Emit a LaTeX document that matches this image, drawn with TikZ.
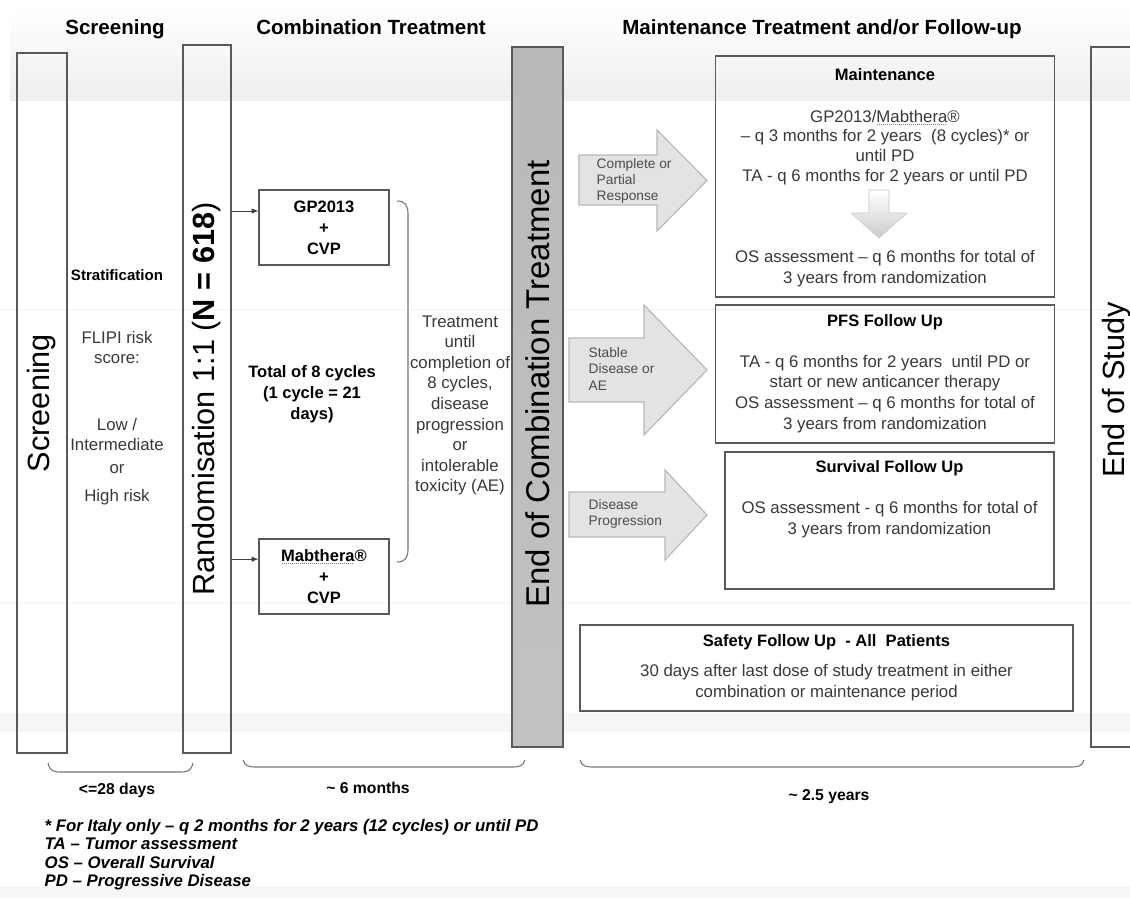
\documentclass[tikz,border=0pt]{standalone}
\usepackage{fontspec}
\setmainfont{Liberation Sans}
\usetikzlibrary{arrows.meta}

% dotted spell-check underline
\newcommand{\dotul}[1]{\setbox0\hbox{#1}\leavevmode\rlap{\copy0}%
  \raisebox{-1.9pt}{\hbox to \wd0{\color{gray}\leaders\hbox to 1.5pt{\hss\rule{0.6pt}{0.6pt}\hss}\hfill}}}

\begin{document}
\begin{tikzpicture}[
  x=0.75pt, y=-0.75pt,
  thinbox/.style={draw=black!65, line width=0.9pt, inner sep=0pt},
  tallbox/.style={thinbox, rotate=90, minimum width=525pt,
                  font=\fontsize{23}{27}\selectfont},
  hdr/.style={anchor=base, font=\fontsize{15.4}{18}\selectfont\bfseries},
  ttl/.style={align=center, font=\fontsize{12.4}{15.75}\selectfont\bfseries},
  txt/.style={align=center, text=black!78, font=\fontsize{12.6}{15.6}\selectfont},
  lbl/.style={align=left, text=black!70, font=\fontsize{10.3}{12.2}\selectfont},
  fatarrow/.style={fill=gray!22, draw=gray!55, line width=0.9pt},
  spanline/.style={draw=black!55, line width=0.8pt},
  arr/.style={-{Latex[length=5pt,width=4pt]}, black!75, line width=0.6pt}
]
  \useasboundingbox (0,0) rectangle (1130,897);
  % background bands
  \shade[top color=white, bottom color=gray!13] (10,8) rectangle (1130,100);
  \fill[gray!7] (0,713) rectangle (1130,732);
  \fill[gray!7] (0,886) rectangle (1130,897);
  \draw[gray!6, line width=1.5pt] (0,310) -- (1130,310);
  \draw[gray!6, line width=1.5pt] (0,603) -- (1130,603);

  % headers
  \node[hdr] (hscr)   at (115,34) {Screening};
  \node[hdr] (hcomb)  at (371,34) {Combination Treatment};
  \node[hdr] (hmaint) at (822,34) {Maintenance Treatment and/or Follow-up};

  % screening, stratification, randomisation
  \node[tallbox, minimum height=37.5pt] (scr) at (42,403) {Screening};
  \node[ttl, font=\fontsize{11.3}{14}\selectfont\bfseries] (strat) at (117,275) {Stratification};
  \node[txt] (flipi) at (117,347.5) {FLIPI risk\\score:};
  \node[txt] (lowint) at (117,434.5) {Low /\\Intermediate};
  \node[txt] (orr) at (117,469) {or};
  \node[txt] (high) at (117,497) {High risk};
  \node[tallbox, minimum width=531pt, minimum height=36pt] (rand) at (207,399)
    {Randomisation 1:1 (\textbf{N = 618})};

  % treatment arms
  \node[thinbox, ttl, minimum width=97.5pt, minimum height=56.25pt] (gp) at (324,227.5)
    {GP2013\\+\\CVP};
  \node[thinbox, ttl, minimum width=97.5pt, minimum height=56.25pt] (mab) at (324,576.5)
    {\dotul{Mabthera}®\\+\\CVP};
  \coordinate (gpin)  at ([yshift=12.4pt]gp.west);
  \coordinate (mabin) at ([yshift=13pt]mab.west);
  \draw[arr] (rand.south |- gpin) -- (gpin);
  \draw[arr] (rand.south |- mabin) -- (mabin);
  \draw[spanline] (397,201) .. controls (405,201) and (408,205) .. (408,214)
    -- (408,549) .. controls (408,558) and (405,562) .. (397,562);
  \node[ttl] (cycles) at (312,394) {Total of 8 cycles\\(1 cycle = 21\\days)};
  \node[txt, font=\fontsize{12.6}{15.45}\selectfont] (until) at (460,405.5)
    {Treatment\\until\\completion of\\8 cycles,\\disease\\progression\\or\\intolerable\\toxicity (AE)};

  % end of combination treatment
  \node[tallbox, minimum height=38.25pt, top color=gray!55, middle color=gray!28,
        bottom color=gray!48] (eoc) at (537.5,397) {};
  \node[rotate=90, font=\fontsize{24.7}{29}\selectfont] (eoclbl) at (537.5,384)
    {End of Combination Treatment};

  % response arrows
  \draw[fatarrow] (579,155) -- (657,155) -- (657,130) -- (707,180.5) -- (657,231)
    -- (657,205) -- (579,205) -- cycle;
  \node[lbl, anchor=west] (cpr) at (592,181) {Complete or\\Partial\\Response};
  \draw[fatarrow] (569,338) -- (644,338) -- (644,305) -- (707,370) -- (644,435)
    -- (644,402) -- (569,402) -- cycle;
  \node[lbl, anchor=west] (sdae) at (584,369) {Stable\\Disease or\\AE};
  \draw[fatarrow] (569,492) -- (665,492) -- (665,470) -- (707,515) -- (665,560)
    -- (665,537) -- (569,537) -- cycle;
  \node[lbl, anchor=west] (dp) at (584,514) {Disease\\Progression};

  % maintenance
  \node[thinbox, minimum width=254.25pt, minimum height=180.75pt] (maint) at (885,176.5) {};
  \node[ttl] (mtitle) at (885,75) {Maintenance};
  \node[txt, font=\fontsize{12.6}{14.8}\selectfont] (mdose) at (885,147.5)
    {GP2013/\dotul{Mabthera}®\\– q 3 months for 2 years\ \ (8 cycles)* or\\until PD\\TA - q 6 months for 2 years or until PD};
  \shade[top color=white, bottom color=gray!40, draw=gray!45] (869,190) -- (889,190)
    -- (889,213) -- (907,213) -- (879,238) -- (851,213) -- (869,213) -- cycle;
  \node[txt] (mos) at (885,268.5) {OS assessment – q 6 months for total of\\3 years from randomization};

  % pfs follow up
  \node[thinbox, minimum width=254.25pt, minimum height=103.5pt] (pfs) at (885,374) {};
  \node[ttl] (ptitle) at (885,322) {PFS Follow Up};
  \node[txt] (ptext) at (885,394)
    {TA - q 6 months for 2 years\ \ until PD or\\start or new anticancer therapy\\OS assessment – q 6 months for total of\\3 years from randomization};

  % survival follow up
  \node[thinbox, minimum width=246.75pt, minimum height=102.75pt] (surv) at (889.5,520.5) {};
  \node[ttl] (stitle) at (889.5,468) {Survival Follow Up};
  \node[txt] (stext) at (889.5,520) {OS assessment - q 6 months for total of\\3 years from randomization};

  % safety follow up
  \node[thinbox, minimum width=369.75pt, minimum height=64.5pt] (safe) at (826.5,668) {};
  \node[ttl] (sftitle) at (826.5,642) {Safety Follow Up\ \ - All\ \ Patients};
  \node[txt] (sftext) at (826.5,683)
    {30 days after last dose of study treatment in either\\combination or maintenance period};

  % end of study
  \node[tallbox, minimum height=39pt] (eos) at (1117,397) {};
  \node[rotate=90, font=\fontsize{23}{27}\selectfont] (eoslbl) at (1117,390) {End of Study};

  % durations
  \draw[spanline] (48,763) .. controls (50,771) and (53,772) .. (62,772) -- (179,772)
    .. controls (188,772) and (191,771) .. (193,763);
  \node[ttl, font=\fontsize{11.8}{14}\selectfont\bfseries] (d28) at (117,790) {<=28 days};
  \draw[spanline] (243,760) .. controls (245,766) and (248,767) .. (257,767) -- (511,767)
    .. controls (520,767) and (523,766) .. (525,760);
  \node[ttl, font=\fontsize{11.8}{14}\selectfont\bfseries] (m6) at (368,788) {\textasciitilde{} 6 months};
  \draw[spanline] (580,760) .. controls (582,766) and (585,767) .. (594,767) -- (1070,767)
    .. controls (1079,767) and (1082,766) .. (1084,760);
  \node[ttl, font=\fontsize{11.8}{14}\selectfont\bfseries] (y25) at (829,797) {\textasciitilde{} 2.5 years};

  % footnotes
  \node[anchor=west, align=left, font=\fontsize{12.6}{13.9}\selectfont\bfseries\itshape] (foot) at (40,854.5)
    {* For Italy only – q 2 months for 2 years (12 cycles) or until PD\\TA – Tumor assessment\\OS – Overall Survival\\PD – Progressive Disease};
\end{tikzpicture}
\end{document}
